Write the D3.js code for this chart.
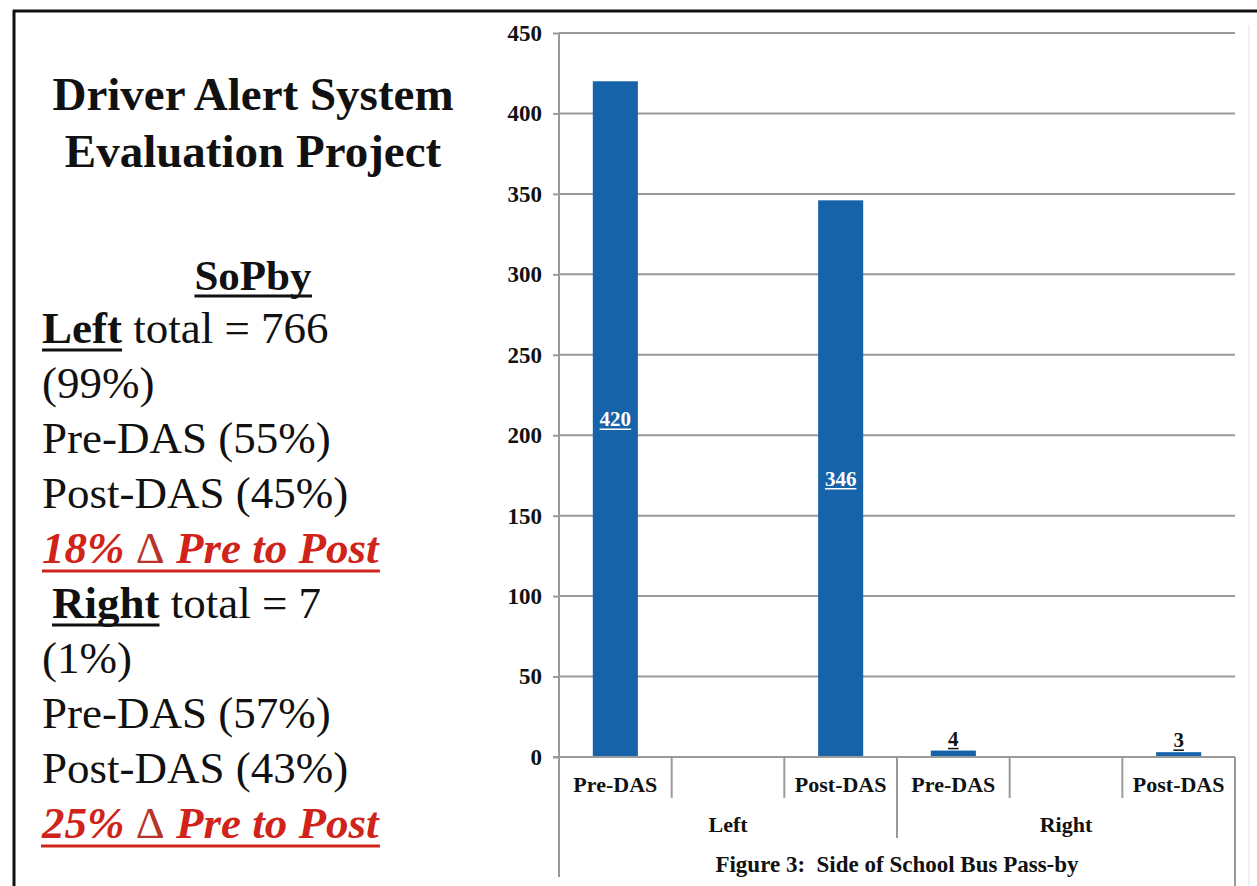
<!DOCTYPE html>
<html><head><meta charset="utf-8">
<script src="https://cdn.jsdelivr.net/npm/d3@7"></script>
<style>
html,body{margin:0;padding:0;background:#fff;}
svg{display:block;}
</style></head>
<body>
<svg id="c" width="1257" height="886"></svg>
<script>
// ---- data ----
const groups = ["Left", "Right"];
const categories = ["Pre-DAS", "", "Post-DAS", "Pre-DAS", "", "Post-DAS"];
const categoryGroup = ["Left", "Left", "Left", "Right", "Right", "Right"];
const values = [420, null, 346, 4, null, 3];
const yTicks = [0, 50, 100, 150, 200, 250, 300, 350, 400, 450];
const caption = "Figure 3:  Side of School Bus Pass-by";
const titleLines = ["Driver Alert System", "Evaluation Project"];
const subTitle = "SoPby";
const leftLines = ["total = 766", "(99%)", "Pre-DAS (55%)", "Post-DAS (45%)"];
const leftChange = ["18% ", "\u0394", " Pre to Post"];
const rightLines = ["total = 7", "(1%)", "Pre-DAS (57%)", "Post-DAS (43%)"];
const rightChange = ["25% ", "\u0394", " Pre to Post"];

const svg = d3.select("#c");
const serif = "'Liberation Serif','Times New Roman',serif";

// frame
svg.append("line").attr("x1",13).attr("x2",1257).attr("y1",11).attr("y2",11).attr("stroke","#111").attr("stroke-width",3);
svg.append("line").attr("x1",14).attr("x2",14).attr("y1",10).attr("y2",886).attr("stroke","#111").attr("stroke-width",3);
svg.append("line").attr("x1",1249).attr("x2",1249).attr("y1",25).attr("y2",886).attr("stroke","#e2e2e2").attr("stroke-width",1);

// ---- chart ----
const x = d3.scaleBand().domain(d3.range(categories.length)).range([559,1235]).paddingInner(0.6).paddingOuter(0.3);
const y = d3.scaleLinear().domain([0,450]).range([757,33]);
const step = x.step();
const x0 = x.range()[0], x1 = x.range()[1];

// y axis ticks + labels
const yAxis = d3.axisLeft(y).tickValues(yTicks).tickSize(6).tickPadding(11);
const ga = svg.append("g").attr("transform",`translate(${x0},0)`).call(yAxis);
ga.select(".domain").remove();
ga.selectAll(".tick line").attr("stroke","#9a9a9a").attr("stroke-width",2);
ga.selectAll(".tick text").attr("font-family",serif).attr("font-weight","bold").attr("font-size",24)
  .attr("fill","#111").attr("transform","scale(1,0.85)").attr("dy","0.32em")
  .each(function(){ const t=d3.select(this.parentNode).attr("transform"); });
// keep scaled labels at proper vertical position
ga.selectAll(".tick").each(function(d){
  d3.select(this).select("text").attr("transform",null).attr("font-size",23);
});

// gridlines
svg.append("g").selectAll("line").data(yTicks.filter(d=>d>0)).join("line")
  .attr("x1",x0).attr("x2",x1).attr("y1",d=>y(d)).attr("y2",d=>y(d))
  .attr("stroke","#9a9a9a").attr("stroke-width",2);

// bars
svg.append("g").selectAll("rect").data(values.map((v,i)=>({v,i})).filter(d=>d.v!=null)).join("rect")
  .attr("x",d=>x(d.i)).attr("width",x.bandwidth())
  .attr("y",d=>y(d.v)).attr("height",d=>y(0)-y(d.v))
  .attr("fill","#1663aa");

// x axis baseline and vertical axis
svg.append("line").attr("x1",x0-6).attr("x2",x1).attr("y1",y(0)).attr("y2",y(0)).attr("stroke","#9a9a9a").attr("stroke-width",2);
svg.append("line").attr("x1",x0).attr("x2",x0).attr("y1",y(450)).attr("y2",877).attr("stroke","#9a9a9a").attr("stroke-width",2);
svg.append("line").attr("x1",x1).attr("x2",x1).attr("y1",y(0)).attr("y2",886).attr("stroke","#9a9a9a").attr("stroke-width",2);

// category separators
const seps = d3.range(1,categories.length);
svg.append("g").selectAll("line").data(seps).join("line")
  .attr("x1",i=>x0+i*step).attr("x2",i=>x0+i*step)
  .attr("y1",y(0)).attr("y2",i=>categoryGroup[i]!==categoryGroup[i-1]?838:798)
  .attr("stroke","#9a9a9a").attr("stroke-width",2);

// category labels
svg.append("g").selectAll("text").data(categories.map((c,i)=>({c,i}))).join("text")
  .attr("x",d=>x(d.i)+x.bandwidth()/2).attr("y",792)
  .attr("text-anchor","middle").attr("font-family",serif).attr("font-weight","bold").attr("font-size",22)
  .attr("fill","#111").text(d=>d.c);

// group labels
svg.append("g").selectAll("text").data(groups).join("text")
  .attr("x",g=>{const idx=categoryGroup.map((c,i)=>c===g?i:-1).filter(i=>i>=0);return x0+(idx[0]+idx[idx.length-1]+1)/2*step;})
  .attr("y",832).attr("text-anchor","middle").attr("font-family",serif).attr("font-weight","bold").attr("font-size",22)
  .attr("fill","#111").text(g=>g);

// caption
svg.append("text").attr("x",(x0+x1)/2).attr("y",872).attr("text-anchor","middle").style("white-space","pre")
  .attr("font-family",serif).attr("font-weight","bold").attr("font-size",23).attr("fill","#111").text(caption);

// data labels
const lab = svg.append("g");
values.forEach((v,i)=>{
  if(v==null) return;
  const h = y(0)-y(v);
  const inside = h>30;
  const cx = x(i)+x.bandwidth()/2;
  const ty = inside ? (y(v)+y(0))/2+7 : y(v)-5;
  const t = lab.append("text").attr("x",cx).attr("y",ty).attr("text-anchor","middle")
    .attr("font-family",serif).attr("font-weight","bold").attr("font-size",21)
    .attr("fill",inside?"#fff":"#111").text(v);
  const w = t.node().getComputedTextLength();
  lab.append("line").attr("x1",cx-w/2).attr("x2",cx+w/2).attr("y1",ty+3).attr("y2",ty+3)
    .attr("stroke",inside?"#fff":"#111").attr("stroke-width",1.5);
});

// ---- left text panel ----
const tp = svg.append("g");
titleLines.forEach((t,i)=>{
  tp.append("text").attr("x",253).attr("y",110+i*57).attr("text-anchor","middle")
    .attr("font-family",serif).attr("font-weight","bold").attr("font-size",47).attr("fill","#111").text(t);
});
function underline(node, yy, color, sw){
  const b = node.getBBox();
  tp.append("line").attr("x1",b.x).attr("x2",b.x+b.width).attr("y1",yy).attr("y2",yy).attr("stroke",color).attr("stroke-width",sw);
}
const st = tp.append("text").attr("x",253).attr("y",290).attr("text-anchor","middle")
  .attr("font-family",serif).attr("font-weight","bold").attr("font-size",43).attr("fill","#111").text(subTitle);
underline(st.node(), 296, "#111", 3);

function block(startY, head, headX, lines, change){
  const t = tp.append("text").attr("x",headX).attr("y",startY).attr("font-family",serif).attr("font-size",45).attr("fill","#111");
  const hs = t.append("tspan").attr("font-weight","bold").text(head);
  t.append("tspan").text(" "+lines[0]);
  const hw = hs.node().getComputedTextLength();
  tp.append("line").attr("x1",headX).attr("x2",headX+hw).attr("y1",startY+7).attr("y2",startY+7).attr("stroke","#111").attr("stroke-width",3);
  lines.slice(1).forEach((l,i)=>{
    tp.append("text").attr("x",42).attr("y",startY+(i+1)*55).attr("font-family",serif).attr("font-size",45).attr("fill","#111").text(l);
  });
  const cy = startY+lines.length*55;
  const c = tp.append("text").attr("x",42).attr("y",cy).attr("font-family",serif).attr("font-size",45).attr("fill","#d0231a");
  c.append("tspan").attr("font-weight","bold").attr("font-style","italic").text(change[0]);
  c.append("tspan").attr("font-weight","normal").attr("fill","#b8332a").text(change[1]);
  c.append("tspan").attr("font-weight","bold").attr("font-style","italic").text(change[2]);
  underline(c.node(), cy+8, "#d0231a", 3);
}
block(343, "Left", 42, leftLines, leftChange);
block(618, "Right", 52, rightLines, rightChange);
</script>
</body></html>
